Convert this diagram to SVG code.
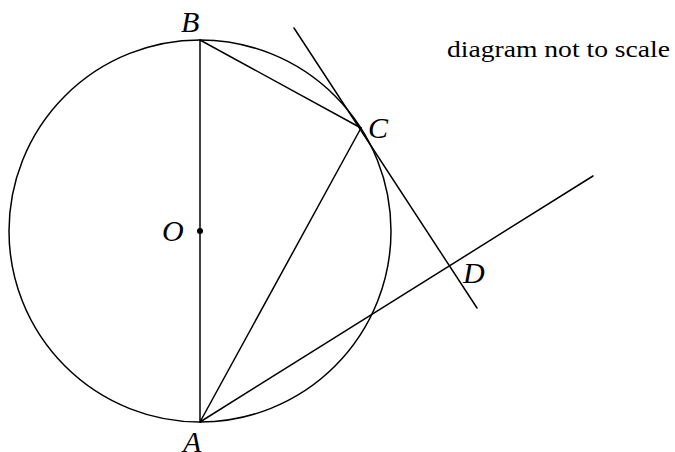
<svg xmlns="http://www.w3.org/2000/svg" width="675" height="452" viewBox="0 0 675 452">
<style>
.ln{stroke:#000;stroke-width:1.5;fill:none;stroke-linecap:round}
.lbl{font-family:"Liberation Serif","Times New Roman",serif;font-style:italic;font-size:30px;fill:#000}
.note{font-family:"Liberation Serif","Times New Roman",serif;font-size:23px;fill:#000}
</style>
<rect width="675" height="452" fill="#fff"/>
<circle class="ln" cx="200" cy="231" r="191"/>
<line class="ln" x1="200" y1="40" x2="200" y2="422"/>
<line class="ln" x1="200" y1="40" x2="361" y2="128"/>
<line class="ln" x1="200" y1="422" x2="361" y2="128"/>
<line class="ln" x1="294" y1="28" x2="477" y2="308"/>
<line class="ln" x1="200" y1="422" x2="593" y2="176"/>
<circle cx="200" cy="231" r="3" fill="#000"/>
<text class="lbl" x="181" y="32">B</text>
<text class="lbl" x="368" y="138">C</text>
<text class="lbl" x="162" y="241">O</text>
<text class="lbl" x="463" y="283">D</text>
<text class="lbl" x="183" y="452">A</text>
<text class="note" x="447" y="57" textLength="223" lengthAdjust="spacingAndGlyphs">diagram not to scale</text>
</svg>
